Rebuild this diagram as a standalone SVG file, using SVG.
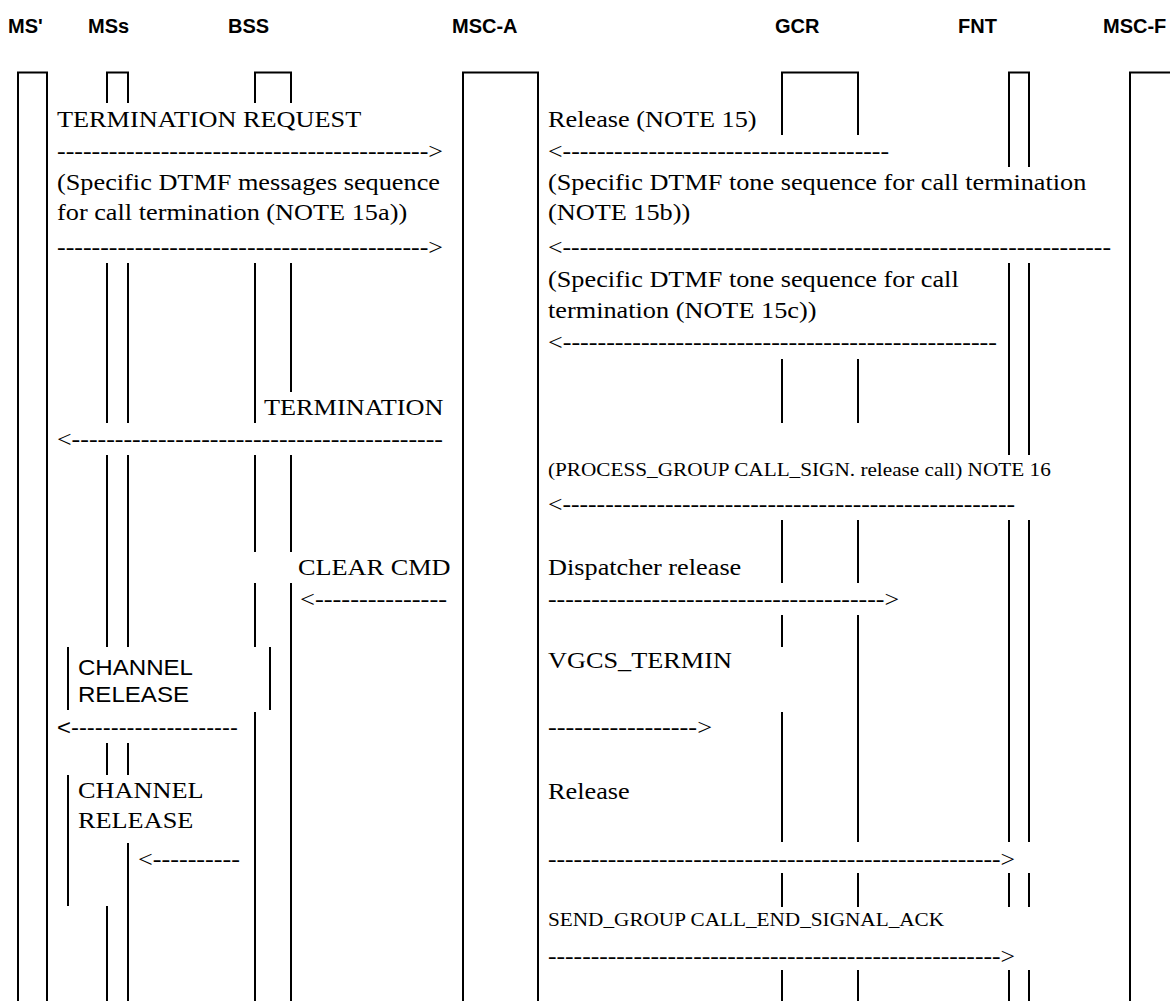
<svg xmlns="http://www.w3.org/2000/svg" width="1170" height="1001" viewBox="0 0 1170 1001">
<style>
.ln{stroke:#000;stroke-width:2;fill:none}
.t{font-family:"Liberation Serif","Times New Roman",serif;font-size:24px;fill:#000}
.s{font-size:19.4px}
.a{font-family:"Liberation Sans",Arial,sans-serif;font-size:22px;fill:#000}
.h{font-family:"Liberation Sans",Arial,sans-serif;font-weight:bold;font-size:20px;fill:#000}
</style>
<rect width="1170" height="1001" fill="#fff"/>
<g id="ms-prime">
<text class="h" x="8" y="33">MS'</text>
<path class="ln" d="M18 1001V72.5H47V1001"/>
</g>
<g id="mss">
<text class="h" x="88" y="33">MSs</text>
<path class="ln" d="M107 103V72.5H128V103M107 263V423M128 263V423M107 455V647M128 455V647M107 743V775M128 743V775M128 843V1001M107 906V1001"/>
</g>
<g id="bss">
<text class="h" x="228" y="33">BSS</text>
<path class="ln" d="M255 103V72.5H291V103M255 263V423M291 263V392M255 455V552M291 455V552M255 583V647M255 712V1001M291 583V1001"/>
</g>
<g id="msc-a">
<text class="h" x="452" y="33">MSC-A</text>
<path class="ln" d="M463 1001V72.5H538V1001"/>
</g>
<g id="gcr">
<text class="h" x="775" y="33">GCR</text>
<path class="ln" d="M782 135V72.5H858V135M782 359V423M858 359V423M782 520V583M858 520V583M782 615V647M782 712V842M858 615V842M782 873V907M858 873V907M782 970V1001M858 970V1001"/>
</g>
<g id="fnt">
<text class="h" x="958" y="33">FNT</text>
<path class="ln" d="M1009 167V72.5H1029V167M1009 263V455M1029 263V455M1009 520V842M1029 520V842M1009 873V907M1029 873V907M1009 970V1001M1029 970V1001"/>
</g>
<g id="msc-f">
<text class="h" x="1103" y="33">MSC-F</text>
<path class="ln" d="M1130 1001V72.5H1172"/>
</g>
<g id="channel-release-boxes">
<path class="ln" d="M68 647V710M270 647V710M68 775V906"/>
</g>
<g id="connectors" transform="scale(1.095 1)">
<text class="t" x="52.055" y="127">TERMINATION REQUEST</text>
<text class="t" x="52.055" y="159" textLength="352.51" lengthAdjust="spacingAndGlyphs">-------------------------------------------&gt;</text>
<text class="t" x="52.055" y="190">(Specific DTMF messages sequence</text>
<text class="t" x="52.055" y="220">for call termination (NOTE 15a))</text>
<text class="t" x="52.055" y="255" textLength="352.51" lengthAdjust="spacingAndGlyphs">-------------------------------------------&gt;</text>
<text class="t" x="241.096" y="415">TERMINATION</text>
<text class="t" x="52.055" y="447" textLength="352.51" lengthAdjust="spacingAndGlyphs">&lt;-------------------------------------------</text>
<text class="t" x="272.146" y="575">CLEAR CMD</text>
<text class="t" x="273.973" y="607" textLength="134.25" lengthAdjust="spacingAndGlyphs">&lt;---------------</text>
<text class="a" x="71.233" y="675">CHANNEL</text>
<text class="a" x="71.233" y="702">RELEASE</text>
<text class="a" x="52.055" y="735" textLength="165.3" lengthAdjust="spacingAndGlyphs">&lt;---------------------</text>
<text class="t" x="71.233" y="798">CHANNEL</text>
<text class="t" x="71.233" y="828">RELEASE</text>
<text class="t" x="126.027" y="867" textLength="93.15" lengthAdjust="spacingAndGlyphs">&lt;----------</text>
<text class="t" x="500.457" y="127">Release (NOTE 15)</text>
<text class="t" x="500.457" y="159" textLength="311.42" lengthAdjust="spacingAndGlyphs">&lt;--------------------------------------</text>
<text class="t" x="500.457" y="190">(Specific DTMF tone sequence for call termination</text>
<text class="t" x="500.457" y="220">(NOTE 15b))</text>
<text class="t" x="500.457" y="255" textLength="514.16" lengthAdjust="spacingAndGlyphs">&lt;----------------------------------------------------------------</text>
<text class="t" x="500.457" y="287">(Specific DTMF tone sequence for call</text>
<text class="t" x="500.457" y="318">termination (NOTE 15c))</text>
<text class="t" x="500.457" y="350" textLength="410.05" lengthAdjust="spacingAndGlyphs">&lt;--------------------------------------------------</text>
<text class="t s" x="500.457" y="476.5">(PROCESS_GROUP CALL_SIGN. release call) NOTE 16</text>
<text class="t" x="500.457" y="512" textLength="426.48" lengthAdjust="spacingAndGlyphs">&lt;-----------------------------------------------------</text>
<text class="t" x="500.457" y="575">Dispatcher release</text>
<text class="t" x="500.457" y="607" textLength="320.55" lengthAdjust="spacingAndGlyphs">---------------------------------------&gt;</text>
<text class="t" x="500.457" y="668">VGCS_TERMIN</text>
<text class="t" x="500.457" y="735" textLength="149.77" lengthAdjust="spacingAndGlyphs">-----------------&gt;</text>
<text class="t" x="500.457" y="799">Release</text>
<text class="t" x="500.457" y="867" textLength="426.48" lengthAdjust="spacingAndGlyphs">-----------------------------------------------------&gt;</text>
<text class="t s" x="500.457" y="926">SEND_GROUP CALL_END_SIGNAL_ACK</text>
<text class="t" x="500.457" y="964" textLength="426.48" lengthAdjust="spacingAndGlyphs">-----------------------------------------------------&gt;</text>
</g>
</svg>
